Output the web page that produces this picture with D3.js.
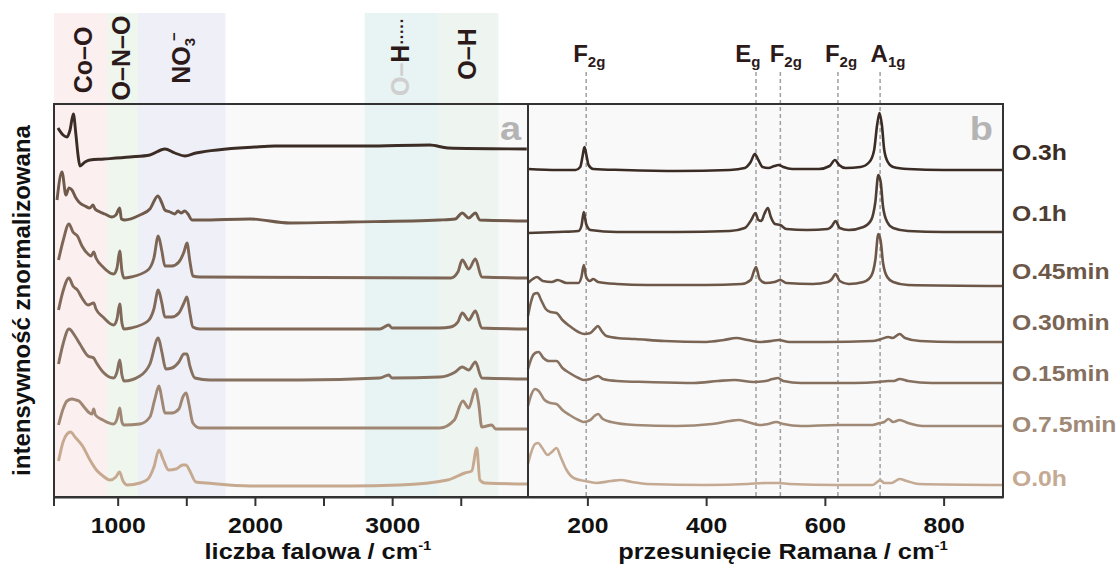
<!DOCTYPE html>
<html>
<head>
<meta charset="utf-8">
<script src="https://cdn.jsdelivr.net/npm/d3@7"></script>
<style>
  body { margin: 0; background: #fff; }
  text { font-family: "Liberation Sans", Arial, sans-serif; font-weight: bold; }
</style>
</head>
<body>
<svg id="chart" width="1120" height="576"></svg>
<script>
"use strict"

/**
 * DATA
 * */
const samples = ["O.3h", "O.1h", "O.45min", "O.30min", "O.15min", "O.7.5min", "O.0h"];
const sampleColors = ["#3a2c25", "#4f3e34", "#6c5748", "#7a6555", "#856f5f", "#a08a77", "#c5aa93"];
const ftirColors = ["#3b2d26", "#6f5a4b", "#7d6656", "#806959", "#86705f", "#9f8773", "#c6a98f"];

// FTIR: [wavenumber, intensity above own baseline]
const ftirOffsets = [349, 276, 219, 168, 117, 68, 13];
const ftir3h = [[565,20],[602,13],[631,11],[653,18],[677,34],[696,13],[711,-7],[725,-18],[762,-14],[798,-12],[900,-11],[1090,-9],[1235,-7],[1344,-1],[1417,-5],[1490,-8],[1570,-5],[2000,1],[2146,2],[2801,2],[3275,3],[3406,0],[3981,-1]];
const ftir1h = [[558,21],[594,49],[623,26],[645,33],[667,31],[696,23],[725,18],[762,15],[798,13],[820,16],[835,12],[871,9],[907,7],[958,4],[987,6],[1015,13],[1027,2],[1053,1],[1162,6],[1235,12],[1293,25],[1322,18],[1344,11],[1381,9],[1417,7],[1439,10],[1461,8],[1490,10],[1512,7],[1541,1],[1599,1],[1964,2],[2255,-2],[2692,-1],[3347,1],[3460,2],[3511,8],[3558,3],[3607,8],[3639,1],[3988,0]];
const ftir45min = [[569,18],[602,37],[645,54],[674,46],[707,42],[740,32],[784,24],[806,22],[825,26],[842,20],[893,11],[970,4],[995,10],[1015,27],[1031,7],[1046,0],[1097,1],[1221,8],[1264,20],[1296,42],[1322,27],[1344,12],[1395,12],[1446,16],[1483,26],[1505,35],[1526,17],[1548,2],[1599,1],[3427,0],[3479,6],[3511,18],[3558,9],[3607,19],[3653,1],[3988,0]];
const ftir30min = [[569,19],[602,38],[645,51],[674,43],[707,39],[740,31],[784,24],[825,26],[842,20],[893,12],[970,4],[995,10],[1015,25],[1031,6],[1046,0],[1097,1],[1221,8],[1264,20],[1296,39],[1322,26],[1344,12],[1395,12],[1446,16],[1483,26],[1505,32],[1526,16],[1548,2],[1599,0],[2910,0],[2976,4],[2998,1],[3347,1],[3427,2],[3479,7],[3511,16],[3558,9],[3607,18],[3653,1],[3988,0]];
const ftir15min = [[569,16],[602,36],[645,51],[689,44],[725,36],[784,24],[825,22],[842,18],[893,8],[970,2],[995,8],[1015,20],[1031,5],[1046,-1],[1162,4],[1235,16],[1296,42],[1322,28],[1351,11],[1395,12],[1446,18],[1483,26],[1505,26],[1526,14],[1563,2],[1672,0],[2328,0],[2910,2],[2976,5],[2998,2],[3347,3],[3460,8],[3511,13],[3558,10],[3607,18],[3653,2],[3988,1]];
const ftir7min = [[569,4],[602,20],[631,28],[667,30],[696,29],[718,28],[755,22],[795,16],[813,15],[825,20],[838,14],[893,9],[970,5],[995,10],[1015,21],[1031,7],[1046,4],[1162,5],[1235,12],[1271,30],[1301,43],[1322,30],[1344,16],[1395,16],[1446,20],[1475,32],[1499,36],[1519,25],[1548,6],[1599,1],[2328,1],[3347,1],[3453,9],[3515,28],[3558,21],[3607,40],[3631,25],[3653,2],[3726,4],[3755,0],[3988,0]];
const ftir0h = [[569,23],[602,42],[631,50],[657,52],[689,47],[744,38],[798,24],[845,14],[893,8],[944,4],[987,7],[1013,12],[1039,3],[1071,-1],[1162,1],[1221,5],[1264,17],[1301,34],[1330,25],[1371,14],[1424,15],[1475,19],[1497,19],[1526,13],[1570,2],[1647,1],[1964,-2],[2692,-2],[3056,-1],[3403,4],[3529,11],[3580,13],[3617,36],[3639,4],[3675,1],[3988,0]];
const ftirSeries = [ftir3h, ftir1h, ftir45min, ftir30min, ftir15min, ftir7min, ftir0h];

// Raman: [shift, intensity above own baseline]
const ramanOffsets = [327, 265, 212, 155, 114, 71, 12];
const raman3h = [[100,1],[150,0],[180,0],[188,3],[192,14],[195,23],[198,16],[202,5],[210,1],[260,0],[350,-1],[440,0],[465,2],[475,8],[482,16],[488,10],[495,3],[505,2],[515,4],[522,5],[530,3],[545,1],[590,1],[608,4],[617,10],[624,5],[635,2],[660,3],[675,8],[683,20],[688,45],[692,57],[696,45],[700,20],[706,8],[715,3],[740,1],[800,0],[900,0]];
const raman1h = [[100,-1],[150,0],[185,1],[190,6],[194,20],[198,8],[205,2],[250,0],[350,0],[440,1],[465,4],[476,12],[483,19],[488,12],[493,11],[498,18],[504,24],[509,15],[516,8],[525,7],[535,3],[570,2],[605,3],[612,6],[618,11],[625,4],[640,2],[665,5],[678,12],[685,30],[690,57],[694,50],[698,25],[705,10],[715,4],[740,1],[800,0],[900,0]];
const raman45min = [[100,2],[108,6],[115,8],[125,4],[140,3],[150,5],[165,2],[185,2],[190,8],[194,20],[198,8],[204,4],[210,6],[218,3],[250,1],[300,0],[400,0],[460,1],[475,5],[484,18],[490,6],[500,2],[515,3],[525,5],[535,2],[580,1],[605,3],[612,6],[618,11],[625,4],[640,1],[665,3],[678,9],[685,25],[690,51],[694,44],[698,22],[705,8],[715,3],[740,0],[900,-1]];
const raman30min = [[100,26],[105,40],[110,48],[116,49],[122,42],[130,33],[138,30],[148,29],[158,22],[170,16],[185,10],[195,8],[205,9],[212,13],[218,16],[224,11],[232,6],[250,4],[280,3],[330,1],[400,0],[430,2],[451,4],[470,2],[490,0],[510,1],[522,2],[540,0],[600,0],[680,1],[695,3],[707,5],[714,4],[726,8],[735,4],[760,1],[820,0],[900,0]];
const raman15min = [[100,14],[106,25],[112,30],[118,31],[126,25],[135,22],[148,22],[158,15],[170,10],[185,5],[193,3],[205,4],[212,6],[218,7],[226,4],[250,2],[300,1],[380,0],[420,2],[448,3],[480,1],[500,2],[512,4],[521,5],[530,2],[560,0],[650,0],[690,1],[707,2],[716,2],[726,4],[740,2],[780,0],[900,0]];
const raman7min = [[100,20],[106,32],[112,37],[118,35],[128,26],[138,23],[148,22],[158,16],[170,11],[185,6],[193,4],[205,6],[212,10],[218,12],[226,7],[240,4],[280,1],[350,0],[410,2],[440,5],[455,6],[470,4],[490,1],[505,2],[518,4],[530,2],[560,0],[620,1],[680,1],[693,3],[700,4],[707,7],[715,4],[726,6],[740,3],[765,0],[900,0]];
const raman0h = [[100,21],[105,32],[112,41],[117,42],[124,37],[133,30],[140,33],[148,37],[155,28],[164,16],[177,7],[196,4],[215,2],[240,4],[256,5],[275,3],[300,1],[400,0],[470,1],[500,2],[522,2],[540,1],[620,0],[680,0],[688,3],[693,5],[700,2],[712,2],[726,6],[738,4],[758,1],[900,0]];
const ramanSeries = [raman3h, raman1h, raman45min, raman30min, raman15min, raman7min, raman0h];

// FTIR shaded regions (cm-1) and their labels
const bandStart = [536, 922, 1148, 2800, 3340];
const bandEnd = [922, 1148, 1785, 3340, 3774];
const bandColors = ["#fbeff0", "#eef6ee", "#eeeff7", "#e8f3f3", "#eef4f0"];
const bandLabelPos = [747, 1024, 1461, 3056, 3544];

// Raman mode lines and labels
const modePositions = [198, 484, 525, 622, 693];
const modeMain = ["F", "E", "F", "F", "A"];
const modeSub = ["2g", "g", "2g", "2g", "1g"];
const modeLabelStart = [176, 449, 507, 600, 677];

const ftirTicks = [1000, 1500, 2000, 2500, 3000, 3500];
const ftirTickLabels = [1000, 2000, 3000];
const ramanTicks = [200, 400, 600, 800];

/**
 * LAYOUT
 * */
const svg = d3.select("#chart");
const plotTop = 104, plotBottom = 497;
const leftA = 54, mid = 528, rightB = 1003;
const dark = "#2c1a1a";
const wide = 1.15; // the source figure is stretched sideways

const xA = d3.scaleLinear().domain([536, 3990]).range([leftA, mid]);
const xB = d3.scaleLinear().domain([100, 900]).range([mid, rightB]);
const y = d3.scaleLinear().domain([0, plotBottom - plotTop]).range([plotBottom, plotTop]);

// horizontal text, stretched like the original
function wideText(x, yy) {
  return svg.append("text").attr("transform", `translate(${x},${yy}) scale(${wide},1)`);
}

// panel backgrounds
svg.append("rect").attr("x", leftA).attr("y", plotTop).attr("width", mid - leftA).attr("height", plotBottom - plotTop).attr("fill", "#f9f9f9");
svg.append("rect").attr("x", mid).attr("y", plotTop).attr("width", rightB - mid).attr("height", plotBottom - plotTop).attr("fill", "#f9f9f9");

// shaded bands, they run up above the frame
svg.append("g")
  .selectAll("rect")
  .data(bandStart)
  .join("rect")
    .attr("x", d => xA(d))
    .attr("width", (d, i) => xA(bandEnd[i]) - xA(d))
    .attr("y", 13)
    .attr("height", plotBottom - 13)
    .attr("fill", (d, i) => bandColors[i]);

// band labels (rotated)
const bandLabelY = [60, 58, 58, 57, 54];
const bandG = svg.append("g").style("font-size", "25px");
function bandLabel(i) {
  return bandG.append("text")
    .attr("transform", `translate(${xA(bandLabelPos[i])},${bandLabelY[i]}) rotate(-90)`)
    .attr("text-anchor", "middle")
    .attr("dy", "0.36em")
    .attr("fill", dark);
}
bandLabel(0).text("Co–O");
bandLabel(1).text("O–N–O");
let t = bandLabel(2);
t.append("tspan").text("NO");
t.append("tspan").text("3").style("font-size", "15px").attr("dy", "5");
t.append("tspan").text("−").style("font-size", "15px").attr("dx", "-3").attr("dy", "-16");
t = bandLabel(3);
t.append("tspan").text("O–").attr("fill", "#cfcfcf");
t.append("tspan").text("H");
t.append("tspan").text("·····").style("font-size", "16px").attr("dy", "-2");
bandLabel(4).text("O–H");

// raman mode dashed lines + labels
svg.append("g")
  .selectAll("line")
  .data(modePositions)
  .join("line")
    .attr("x1", d => xB(d)).attr("x2", d => xB(d))
    .attr("y1", 72).attr("y2", plotBottom)
    .attr("stroke", "#a0a0a0")
    .attr("stroke-width", 1.5)
    .attr("stroke-dasharray", "4,3");

modePositions.forEach((d, i) => {
  const txt = svg.append("text").attr("x", xB(modeLabelStart[i])).attr("y", 62)
    .style("font-size", "24px").attr("fill", dark);
  txt.append("tspan").text(modeMain[i]);
  txt.append("tspan").text(modeSub[i]).style("font-size", "15px").attr("dy", "5");
});

// spectra
const lineA = d3.line().x(d => xA(d[0])).y(d => y(d[1])).curve(d3.curveMonotoneX);
const lineB = d3.line().x(d => xB(d[0])).y(d => y(d[1])).curve(d3.curveMonotoneX);

svg.append("g")
  .selectAll("path")
  .data(ftirSeries)
  .join("path")
    .attr("d", (d, i) => lineA(d.map(p => [p[0], p[1] + ftirOffsets[i]])))
    .attr("fill", "none")
    .attr("stroke", (d, i) => ftirColors[i])
    .attr("stroke-width", 2.9)
    .attr("stroke-linejoin", "round");

svg.append("g")
  .selectAll("path")
  .data(ramanSeries)
  .join("path")
    .attr("d", (d, i) => lineB(d.map(p => [p[0], p[1] + ramanOffsets[i]])))
    .attr("fill", "none")
    .attr("stroke", (d, i) => sampleColors[i])
    .attr("stroke-width", 2.6)
    .attr("stroke-linejoin", "round");

// frames
const frame = svg.append("g").attr("fill", "none").attr("stroke", "#333").attr("stroke-width", 2);
frame.append("path").attr("d", `M${leftA},${plotBottom + 9}V${plotTop}H${rightB}V${plotBottom}H${leftA}`);
frame.append("line").attr("x1", mid).attr("x2", mid).attr("y1", plotTop).attr("y2", plotBottom);

// axes
const axisA = svg.append("g")
  .attr("transform", `translate(0,${plotBottom})`)
  .call(d3.axisBottom(xA).tickValues(ftirTicks).tickSize(9).tickSizeOuter(0)
    .tickFormat(d => ftirTickLabels.includes(d) ? d : ""));
const axisB = svg.append("g")
  .attr("transform", `translate(0,${plotBottom})`)
  .call(d3.axisBottom(xB).tickValues(ramanTicks).tickSize(9).tickSizeOuter(0));

[axisA, axisB].forEach(a => {
  a.select(".domain").attr("stroke", "#333").attr("stroke-width", 2);
  a.selectAll(".tick line").attr("stroke", "#333").attr("stroke-width", 2);
  a.selectAll(".tick text").attr("fill", "#111").style("font-size", "21.5px")
    .style("font-family", "'Liberation Sans', Arial, sans-serif")
    .attr("y", 21)
    .attr("transform", `scale(${wide},1)`);
});

// panel letters
wideText(mid - 7, 140).attr("text-anchor", "end")
  .style("font-size", "33px").attr("fill", "#b4b4b4").text("a");
wideText(rightB - 10, 140).attr("text-anchor", "end")
  .style("font-size", "33px").attr("fill", "#b4b4b4").text("b");

// sample names on the right
const labelY = [160, 221, 279, 330, 381, 432, 486];
samples.forEach((s, i) => {
  wideText(1012, labelY[i]).style("font-size", "21.5px").attr("fill", sampleColors[i]).text(s);
});

// axis titles
let title = wideText(318, 559).attr("text-anchor", "middle").style("font-size", "22px").attr("fill", "#111");
title.append("tspan").text("liczba falowa / cm");
title.append("tspan").text("-1").style("font-size", "13px").attr("dy", "-9");

title = wideText(783, 559).attr("text-anchor", "middle").style("font-size", "22px").attr("fill", "#111");
title.append("tspan").text("przesunięcie Ramana / cm");
title.append("tspan").text("-1").style("font-size", "13px").attr("dy", "-9");

svg.append("text")
  .attr("transform", `translate(30,${(plotTop + plotBottom) / 2}) rotate(-90)`)
  .attr("text-anchor", "middle")
  .style("font-size", "24px")
  .attr("fill", "#111")
  .text("intensywność znormalizowana");
</script>
</body>
</html>
